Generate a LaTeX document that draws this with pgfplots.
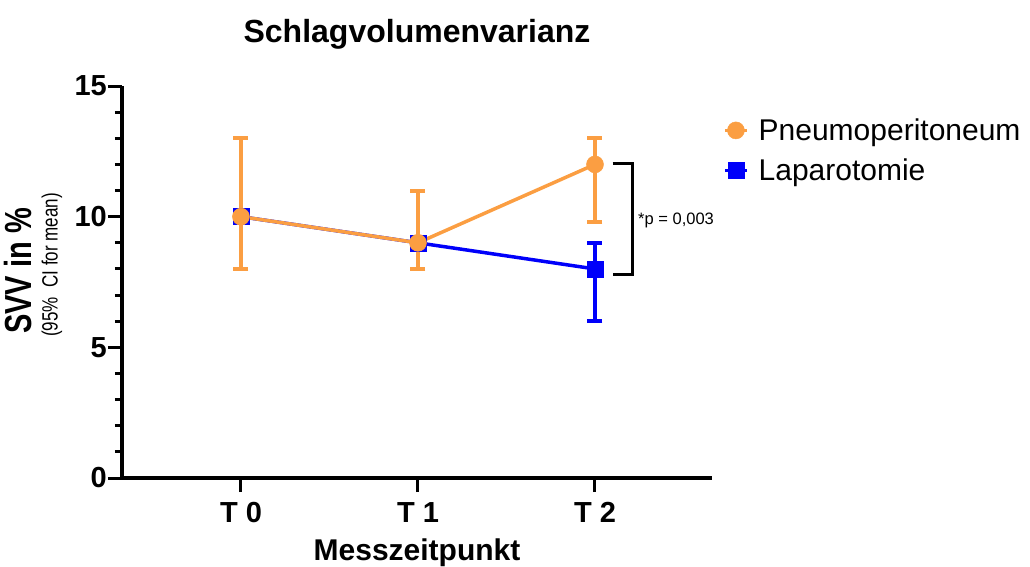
\documentclass[border=0pt]{standalone}
\usepackage{fontspec}
\setmainfont{Liberation Sans}
\usepackage{pgfplots}
\pgfplotsset{compat=1.18}
\definecolor{orng}{RGB}{251,158,66}
\definecolor{blu}{RGB}{0,0,250}
\begin{document}
\begin{tikzpicture}
\path[use as bounding box] (-122pt,-88pt) rectangle (908pt,478pt);
\begin{axis}[
 at={(0pt,0pt)}, anchor=south west,
 scale only axis, width=590pt, height=392pt,
 xmin=-0.672, xmax=2.661, ymin=0, ymax=15,
 axis x line=bottom, axis y line=left,
 axis line style={line width=3.5pt, -},
 xtick={0,1,2}, xticklabels={T 0,T 1,T 2},
 ytick={0,5,10,15}, minor ytick={1,2,3,4,6,7,8,9,11,12,13,14},
 tick align=outside, major tick length=14pt, minor tick length=7pt,
 every tick/.style={line width=3pt, black},
 major tick style={line width=3pt, black},
 minor tick style={line width=3pt, black},
 /pgf/number format/assume math mode=true,
 yticklabel style={font=\fontsize{29}{29}\selectfont\bfseries, inner sep=1pt},
 xticklabel style={font=\fontsize{29}{29}\selectfont\bfseries, yshift=-7pt},
 title={Schlagvolumenvarianz},
 title style={font=\fontsize{32}{32}\selectfont\bfseries, at={(axis description cs:0.5,1)}, anchor=center, yshift=46pt},
 xlabel={Messzeitpunkt},
 xlabel style={font=\fontsize{30}{30}\selectfont\bfseries, at={(axis description cs:0.5,0)}, anchor=base, yshift=-82pt},
 clip=false,
 reverse legend,
 legend cell align=left,
 legend image code/.code={\draw[mark repeat=2,mark phase=2] plot coordinates {(0pt,0pt)(11pt,0pt)(22pt,0pt)};},
 legend style={draw=none, fill=none, at={(axis description cs:1.0186,0.922)}, anchor=north west,
   font=\fontsize{30}{30}\selectfont, row sep=13pt, inner sep=0pt,
   /tikz/every odd column/.append style={column sep=8pt}},
]
\addplot[blu, line width=3.5pt, mark=square*, mark size=8pt, mark options={solid, line width=0.5pt},
  error bars/.cd, y dir=both, y explicit,
  error bar style={line width=4.5pt, blu},
  error mark options={rotate=90, mark size=7.5pt, line width=4pt, blu}]
  coordinates {(0,10) (1,9) (2,8) += (0,1) -= (0,2)};
\addlegendentry{Laparotomie}
\addplot[orng, line width=3.5pt, mark=*, mark size=8.5pt, mark options={solid, line width=0.5pt},
  error bars/.cd, y dir=both, y explicit,
  error bar style={line width=4.5pt, orng},
  error mark options={rotate=90, mark size=7.5pt, line width=4pt, orng}]
  coordinates {(0,10) += (0,3) -= (0,2) (1,9) += (0,2) -= (0,1) (2,12) += (0,1) -= (0,2.2)};
\addlegendentry{Pneumoperitoneum}
\draw[line width=3pt] (axis cs:2.10,12.02) -- (axis cs:2.21,12.02) -- (axis cs:2.21,7.77) -- (axis cs:2.10,7.77);
\node[anchor=west, font=\fontsize{16.5}{16.5}\selectfont, inner sep=0pt] at (axis cs:2.243,9.87) {*p = 0,003};
\end{axis}
\node[rotate=90, font=\fontsize{29}{29}\selectfont\bfseries] at (-104pt,207pt) {\scalebox{1}[1.3]{SVV in \%}};
\node[rotate=90, font=\fontsize{17}{17}\selectfont] at (-70pt,213pt) {\scalebox{1}[1.3]{(95\%\ \ CI for mean)}};
\end{tikzpicture}
\end{document}
